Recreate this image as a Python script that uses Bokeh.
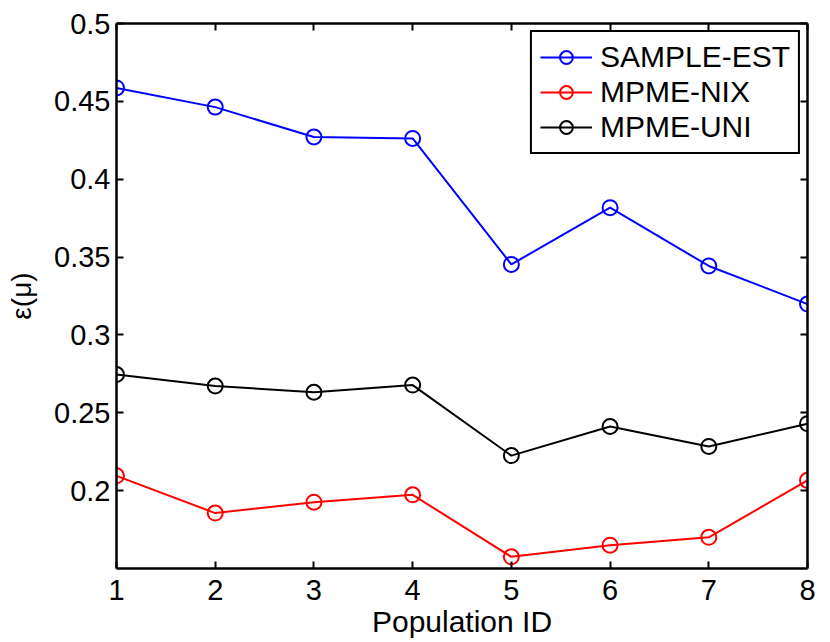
from bokeh.plotting import figure
from bokeh.models import FixedTicker, LinearAxis, Legend, LegendItem, Range1d
from bokeh.embed import file_html
from bokeh.resources import INLINE

# ---- data ----
population_ids = [1, 2, 3, 4, 5, 6, 7, 8]
sample_est = [0.4586, 0.4463, 0.4271, 0.4262, 0.3453, 0.3817, 0.3443, 0.3198]
mpme_nix = [0.2095, 0.1856, 0.1926, 0.1973, 0.1575, 0.1650, 0.1700, 0.2066]
mpme_uni = [0.2746, 0.2672, 0.2632, 0.2678, 0.2225, 0.2412, 0.2284, 0.2430]
series_names = ["SAMPLE-EST", "MPME-NIX", "MPME-UNI"]
series_colors = ["#0000ff", "#ff0000", "#000000"]
y_ticks = [0.2, 0.25, 0.3, 0.35, 0.4, 0.45, 0.5]
y_tick_labels = ["0.2", "0.25", "0.3", "0.35", "0.4", "0.45", "0.5"]
x_label = "Population ID"
y_label = "ε(μ)"

FONT = "Liberation Sans"

p = figure(width=830, height=642, output_backend="svg", toolbar_location=None,
           x_range=Range1d(1, 8), y_range=Range1d(0.15, 0.5),
           min_border_left=116, min_border_right=23, min_border_top=23,
           min_border_bottom=74)
p.grid.visible = False
p.outline_line_color = None
p.background_fill_color = "white"
p.border_fill_color = "white"

def style_axis(ax, show_labels=True):
    ax.axis_line_width = 2.5
    ax.axis_line_color = "black"
    ax.major_tick_in = 7
    ax.major_tick_out = 0
    ax.major_tick_line_width = 2
    ax.major_tick_line_color = "black"
    ax.minor_tick_line_color = None
    ax.major_label_text_font = FONT
    ax.major_label_text_font_size = "29px" if show_labels else "0px"
    ax.major_label_text_color = "black"
    ax.axis_label_text_color = "black"

# bottom axis
xa = p.xaxis[0]
xa.ticker = FixedTicker(ticks=population_ids)
style_axis(xa)
xa.major_label_standoff = 11
xa.axis_label = x_label
xa.axis_label_text_font = FONT
xa.axis_label_text_font_size = "30px"
xa.axis_label_text_font_style = "normal"
xa.axis_label_standoff = 2

# left axis
ya = p.yaxis[0]
ya.ticker = FixedTicker(ticks=y_ticks)
ya.major_label_overrides = {t: l for t, l in zip(y_ticks, y_tick_labels)}
style_axis(ya)
ya.major_label_standoff = 6
ya.axis_label = y_label
ya.axis_label_text_font = FONT
ya.axis_label_text_font_size = "28px"
ya.axis_label_text_font_style = "normal"
ya.axis_label_standoff = 14

# top and right axes (box with inward ticks)
top = LinearAxis(ticker=FixedTicker(ticks=population_ids),
                 major_label_overrides={t: "" for t in population_ids})
style_axis(top, show_labels=False)
top.major_label_standoff = 0
p.add_layout(top, "above")
right = LinearAxis(ticker=FixedTicker(ticks=y_ticks),
                   major_label_overrides={t: "" for t in y_ticks})
style_axis(right, show_labels=False)
right.major_label_standoff = 0
p.add_layout(right, "right")

items = []
for name, color, vals in zip(series_names, series_colors, [sample_est, mpme_nix, mpme_uni]):
    ln = p.line(population_ids, vals, line_color=color, line_width=2)
    sc = p.scatter(population_ids, vals, marker="circle", size=15,
                   fill_color=None, line_color=color, line_width=2)
    items.append(LegendItem(label=name, renderers=[ln, sc]))

legend = Legend(items=items, location="top_right", margin=7, padding=8,
                spacing=1, glyph_width=52, glyph_height=32, label_height=32,
                label_standoff=8, label_text_font=FONT,
                label_text_font_size="30px", label_text_color="black",
                border_line_color="black", border_line_alpha=1.0,
                border_line_width=2, background_fill_color="white",
                background_fill_alpha=1.0)
p.add_layout(legend)

open("out.html", "w").write(file_html(p, INLINE))
